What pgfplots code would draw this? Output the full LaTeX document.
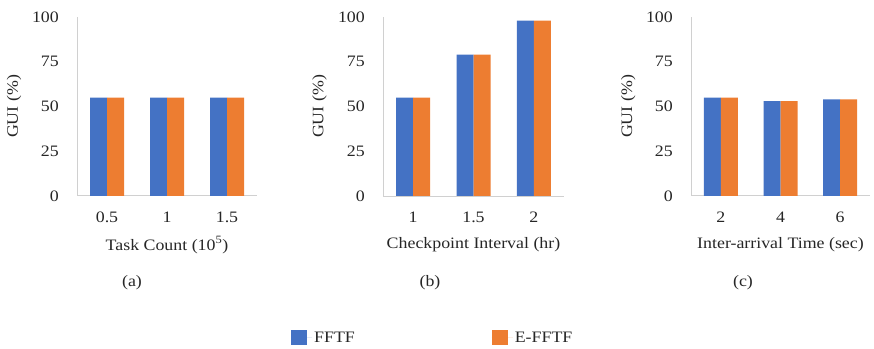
\documentclass[border=0pt]{standalone}
\usepackage{fontspec}
\setmainfont[FakeStretch=1.12]{Liberation Serif}
\usepackage{pgfplots}
\pgfplotsset{compat=1.18}
\definecolor{fblue}{HTML}{4472C4}
\definecolor{forange}{HTML}{ED7D31}
\definecolor{axgray}{HTML}{D0D0D0}
\definecolor{txt}{HTML}{262626}
\pgfplotsset{
  gui/.style={
    scale only axis, width=180bp, height=179bp,
    anchor=south west,
    ymin=0, ymax=100, ytick={0,25,50,75,100},
    xmin=-0.5, xmax=2.5, xtick={0,1,2},
    axis x line*=bottom, axis y line*=left,
    axis line style={axgray, line width=1bp},
    major tick length=0pt,
    ybar=0pt, bar width=17bp,
    /pgf/number format/assume math mode=true,
    tick label style={font=\fontsize{16}{19}\selectfont, text=txt},
    label style={font=\fontsize{16}{19}\selectfont, text=txt},
    yticklabel style={inner sep=0pt, anchor=east, xshift=-18bp},
    xticklabel style={inner sep=0pt, anchor=north, yshift=-16bp},
    ylabel={GUI (\%)},
    ylabel style={at={(axis description cs:-0.35,0.5)}, anchor=center},
    xlabel style={at={(axis description cs:0.5,0)}, anchor=center, yshift=-49bp},
  },
  fftf/.style={fill=fblue, draw=none},
  efftf/.style={fill=forange, draw=none},
}
\begin{document}
\begin{tikzpicture}
\useasboundingbox (0,0) rectangle (874bp,349bp);
% (a)
\begin{axis}[gui, at={(77bp,153bp)}, width=180bp,
  xticklabels={0.5,1,1.5}, xlabel={Task Count (10\textsuperscript{5})}]
\addplot[fftf] coordinates {(0,55) (1,55) (2,55)};
\addplot[efftf] coordinates {(0,55) (1,55) (2,55)};
\end{axis}
% (b)
\begin{axis}[gui, at={(383bp,153bp)}, width=181bp,
  xticklabels={1,1.5,2}, xlabel={Checkpoint Interval (hr)},
  legend columns=2,
  legend style={at={(rel axis cs:-0.525,-0.793)}, anchor=west, draw=none,
    font=\fontsize{16}{19}\selectfont, text=txt,
    /tikz/every even column/.append style={column sep=135bp}},
  legend image code/.code={\fill[#1] (0bp,-7.5bp) rectangle (16bp,7.5bp); \path (0bp,0bp) -- (21bp,0bp);}]
\addplot[fftf] coordinates {(0,55) (1,79) (2,98)};
\addplot[efftf] coordinates {(0,55) (1,79) (2,98)};
\legend{FFTF,E-FFTF}
\end{axis}
% (c)
\begin{axis}[gui, at={(691bp,153bp)}, width=179bp,
  xticklabels={2,4,6}, xlabel={Inter-arrival Time (sec)}]
\addplot[fftf] coordinates {(0,55) (1,53) (2,54)};
\addplot[efftf] coordinates {(0,55) (1,53) (2,54)};
\end{axis}
\node[font=\fontsize{16}{19}\selectfont, text=txt] at (132bp,66bp) {(a)};
\node[font=\fontsize{16}{19}\selectfont, text=txt] at (430bp,66bp) {(b)};
\node[font=\fontsize{16}{19}\selectfont, text=txt] at (743bp,66bp) {(c)};
\end{tikzpicture}
\end{document}
